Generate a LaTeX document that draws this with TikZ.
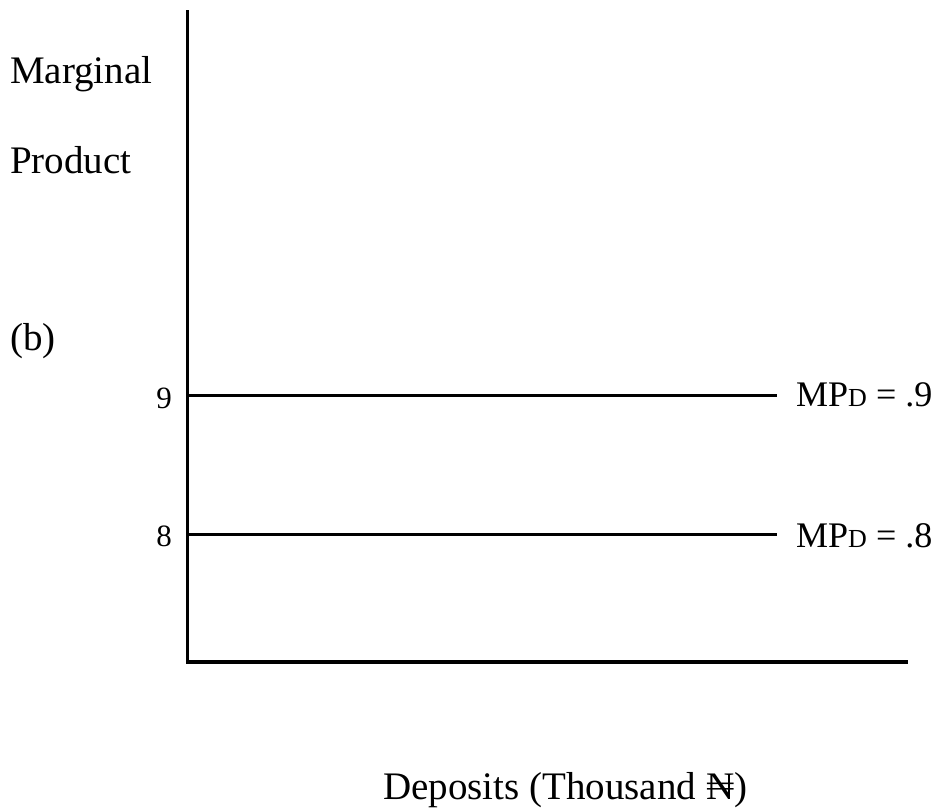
\documentclass[tikz,border=0pt]{standalone}
\usepackage{fontspec}
\setmainfont{Liberation Serif}
\begin{document}
\begin{tikzpicture}[x=1pt,y=-1pt,
  axis/.style={line width=3.5pt},
  level/.style={line width=3pt},
  lbl/.style={font=\fontsize{39}{44}\selectfont, inner sep=0pt, anchor=base west},
  mplbl/.style={font=\fontsize{36}{40}\selectfont, inner sep=0pt, anchor=base west},
  tick/.style={font=\fontsize{31}{36}\selectfont, inner sep=0pt, anchor=base east}]
\useasboundingbox (0,0) rectangle (936,809);
\coordinate (top) at (187.5,10);
\coordinate (origin) at (187.5,662);
\coordinate (xend) at (908,662);
\draw[axis] (top) -- (origin) -- (xend);
\coordinate (l9a) at (187.5,395);
\coordinate (l9b) at (777,395);
\coordinate (l8a) at (187.5,534);
\coordinate (l8b) at (777,534);
\draw[level] (l9a) -- (l9b);
\draw[level] (l8a) -- (l8b);
\node[tick] (t9) at (172,408) {9};
\node[tick] (t8) at (172,546) {8};
\node[mplbl] (m9) at (796,406) {MP{\fontsize{26}{30}\selectfont D} = .9};
\node[mplbl] (m8) at (796,547) {MP{\fontsize{26}{30}\selectfont D} = .8};
\node[lbl] (marg) at (10,83) {Marginal};
\node[lbl] (prod) at (10,173) {Product};
\node[lbl] (b) at (10,350) {(b)};
\node[lbl] (dep) at (383,799) {Deposits (Thousand ₦)};
\end{tikzpicture}
\end{document}
